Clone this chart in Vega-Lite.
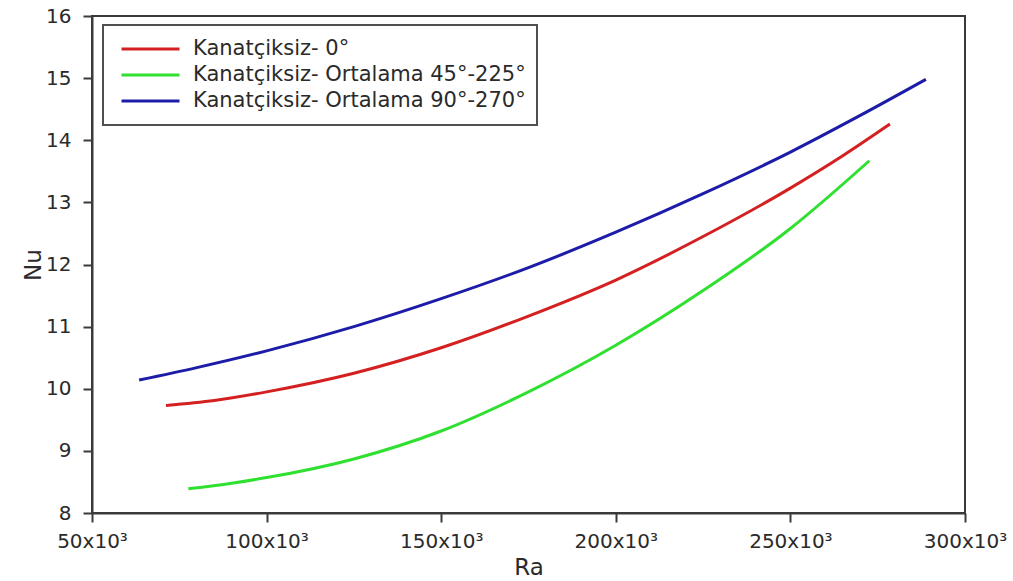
{
  "$schema": "https://vega.github.io/schema/vega-lite/v6.json",
  "width": 873,
  "height": 497,
  "autosize": {"type": "none"},
  "padding": {"left": 92, "top": 16, "right": 48, "bottom": 68},
  "background": "white",
  "config": {
    "font": "DejaVu Sans",
    "view": {"stroke": "#3a3a3a", "strokeWidth": 2}
  },
  "data": {
    "values": [
      {"series": "Kanatçiksiz- 0°", "Ra": 71200, "Nu": 9.73},
      {"series": "Kanatçiksiz- 0°", "Ra": 85000, "Nu": 9.81},
      {"series": "Kanatçiksiz- 0°", "Ra": 100000, "Nu": 9.95},
      {"series": "Kanatçiksiz- 0°", "Ra": 125000, "Nu": 10.25},
      {"series": "Kanatçiksiz- 0°", "Ra": 150000, "Nu": 10.66},
      {"series": "Kanatçiksiz- 0°", "Ra": 175000, "Nu": 11.17},
      {"series": "Kanatçiksiz- 0°", "Ra": 200000, "Nu": 11.75},
      {"series": "Kanatçiksiz- 0°", "Ra": 225000, "Nu": 12.45},
      {"series": "Kanatçiksiz- 0°", "Ra": 250000, "Nu": 13.23},
      {"series": "Kanatçiksiz- 0°", "Ra": 265000, "Nu": 13.75},
      {"series": "Kanatçiksiz- 0°", "Ra": 278500, "Nu": 14.26},

      {"series": "Kanatçiksiz- Ortalama 45°-225°", "Ra": 77600, "Nu": 8.39},
      {"series": "Kanatçiksiz- Ortalama 45°-225°", "Ra": 90000, "Nu": 8.48},
      {"series": "Kanatçiksiz- Ortalama 45°-225°", "Ra": 100000, "Nu": 8.57},
      {"series": "Kanatçiksiz- Ortalama 45°-225°", "Ra": 125000, "Nu": 8.87},
      {"series": "Kanatçiksiz- Ortalama 45°-225°", "Ra": 150000, "Nu": 9.32},
      {"series": "Kanatçiksiz- Ortalama 45°-225°", "Ra": 175000, "Nu": 9.95},
      {"series": "Kanatçiksiz- Ortalama 45°-225°", "Ra": 200000, "Nu": 10.70},
      {"series": "Kanatçiksiz- Ortalama 45°-225°", "Ra": 225000, "Nu": 11.58},
      {"series": "Kanatçiksiz- Ortalama 45°-225°", "Ra": 250000, "Nu": 12.58},
      {"series": "Kanatçiksiz- Ortalama 45°-225°", "Ra": 272600, "Nu": 13.67},

      {"series": "Kanatçiksiz- Ortalama 90°-270°", "Ra": 63500, "Nu": 10.14},
      {"series": "Kanatçiksiz- Ortalama 90°-270°", "Ra": 80000, "Nu": 10.34},
      {"series": "Kanatçiksiz- Ortalama 90°-270°", "Ra": 100000, "Nu": 10.61},
      {"series": "Kanatçiksiz- Ortalama 90°-270°", "Ra": 125000, "Nu": 11.00},
      {"series": "Kanatçiksiz- Ortalama 90°-270°", "Ra": 150000, "Nu": 11.45},
      {"series": "Kanatçiksiz- Ortalama 90°-270°", "Ra": 175000, "Nu": 11.95},
      {"series": "Kanatçiksiz- Ortalama 90°-270°", "Ra": 200000, "Nu": 12.52},
      {"series": "Kanatçiksiz- Ortalama 90°-270°", "Ra": 225000, "Nu": 13.14},
      {"series": "Kanatçiksiz- Ortalama 90°-270°", "Ra": 250000, "Nu": 13.81},
      {"series": "Kanatçiksiz- Ortalama 90°-270°", "Ra": 270000, "Nu": 14.40},
      {"series": "Kanatçiksiz- Ortalama 90°-270°", "Ra": 288800, "Nu": 14.98}
    ]
  },
  "mark": {"type": "line", "strokeWidth": 3, "interpolate": "monotone"},
  "encoding": {
    "x": {
      "field": "Ra",
      "type": "quantitative",
      "scale": {"domain": [50000, 300000], "nice": false, "zero": false},
      "axis": {
        "title": "Ra",
        "values": [50000, 100000, 150000, 200000, 250000, 300000],
        "labelExpr": "format(datum.value / 1000, 'd') + 'x10³'",
        "grid": false,
        "domainColor": "#3a3a3a",
        "domainWidth": 2,
        "tickColor": "#3a3a3a",
        "tickWidth": 2,
        "tickSize": 9,
        "labelFontSize": 20,
        "labelColor": "#2a2a2a",
        "labelPadding": 9,
        "labelFlush": false,
        "labelOverlap": false,
        "titleFontSize": 23,
        "titleFontWeight": "normal",
        "titleColor": "#2a2a2a",
        "titlePadding": 5
      }
    },
    "y": {
      "field": "Nu",
      "type": "quantitative",
      "scale": {"domain": [8, 16], "nice": false, "zero": false},
      "axis": {
        "title": "Nu",
        "values": [8, 9, 10, 11, 12, 13, 14, 15, 16],
        "grid": false,
        "domainColor": "#3a3a3a",
        "domainWidth": 2,
        "tickColor": "#3a3a3a",
        "tickWidth": 2,
        "tickSize": 9,
        "labelFontSize": 20,
        "labelColor": "#2a2a2a",
        "labelPadding": 12,
        "labelFlush": false,
        "labelOverlap": false,
        "titleFontSize": 23,
        "titleFontWeight": "normal",
        "titleColor": "#2a2a2a",
        "titlePadding": 0
      }
    },
    "color": {
      "field": "series",
      "type": "nominal",
      "scale": {
        "domain": ["Kanatçiksiz- 0°", "Kanatçiksiz- Ortalama 45°-225°", "Kanatçiksiz- Ortalama 90°-270°"],
        "range": ["#d42020", "#30e030", "#1c1ca8"]
      },
      "legend": {
        "title": null,
        "orient": "none",
        "legendX": 11,
        "legendY": 9,
        "symbolType": "stroke",
        "symbolSize": 3364,
        "symbolStrokeWidth": 3,
        "symbolOffset": 6,
        "labelFontSize": 21,
        "labelColor": "#2a2a2a",
        "labelOffset": 12,
        "labelLimit": 600,
        "padding": 11,
        "rowPadding": 0,
        "clipHeight": 26,
        "strokeColor": "#505050",
        "fillColor": "white",
        "encode": {"legend": {"update": {"strokeWidth": {"value": 2}}}}
      }
    }
  }
}
